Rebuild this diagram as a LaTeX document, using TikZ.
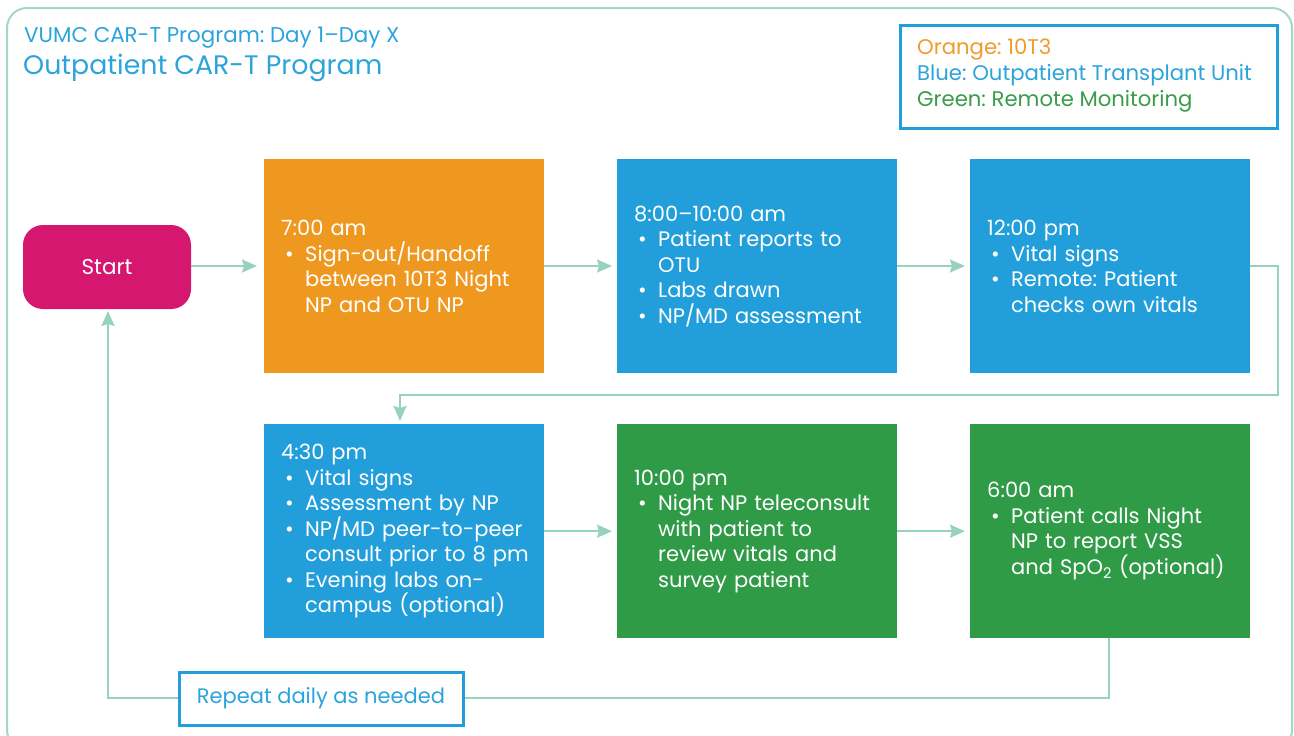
\documentclass[tikz,border=0pt]{standalone}
\usepackage{fontspec}
\setmainfont{Poppins}
\usetikzlibrary{arrows.meta,calc}
\frenchspacing

\definecolor{frameteal}{HTML}{A3D8C7}
\definecolor{linkteal}{HTML}{97D2BF}
\definecolor{otuBlue}{HTML}{229FDA}
\definecolor{tenOrange}{HTML}{EF9820}
\definecolor{remoteGreen}{HTML}{2F9B47}
\definecolor{startPink}{HTML}{D6176F}
\definecolor{titleBlue}{HTML}{2BA4DC}
\definecolor{legOrange}{HTML}{F09C2C}
\definecolor{legGreen}{HTML}{3A9C4B}

% bullet marker and continuation indent for the step boxes
\newcommand{\bl}{\makebox[24pt][l]{\hspace{4pt}\textbullet}}
\newcommand{\ind}{\hspace*{24pt}}

\tikzset{
  stepbox/.style={rectangle, inner xsep=17pt, inner ysep=0pt,
    minimum width=280pt, minimum height=214pt, text width=246pt,
    align=left, text=white, anchor=north west,
    font=\fontsize{21}{25.5}\selectfont},
  link/.style={draw=linkteal, line width=2pt,
    -{Stealth[length=15pt,width=13pt,inset=2pt]}, shorten >=5pt},
  legendbox/.style={draw=otuBlue, line width=3pt, fill=white}
}

\begin{document}
\begin{tikzpicture}[x=1pt,y=-1pt]
\useasboundingbox (0,0) rectangle (1294,736);
\begin{scope}
  \clip (0,0) rectangle (1294,736);
  \draw[frameteal, line width=2pt, rounded corners=20pt] (7,8) rectangle (1292,750);
\end{scope}

% titles
\node[anchor=base west, inner sep=0pt, text=titleBlue, font=\fontsize{21.4}{24}\selectfont]
  (title) at (24,42) {VUMC CAR-T Program: Day 1–Day X};
\node[anchor=base west, inner sep=0pt, text=titleBlue, font=\fontsize{26.8}{30}\selectfont]
  (subtitle) at (23,74) {Outpatient CAR-T Program};

% colour legend
\node[legendbox, anchor=north west, minimum width=377pt, minimum height=103pt,
  inner sep=0pt] (legend) at (899,24) {};
\node[anchor=west, align=left, inner sep=0pt, font=\fontsize{21.2}{26}\selectfont]
  (legendtext) at (917,76)
  {\textcolor{legOrange}{Orange: 10T3}\\
   \textcolor{titleBlue}{Blue: Outpatient Transplant Unit}\\
   \textcolor{legGreen}{Green: Remote Monitoring}};

% start
\node[fill=startPink, rounded corners=20pt, minimum width=168pt, minimum height=84pt,
  text=white, font=\fontsize{21.5}{24}\selectfont] (start) at (107,267) {Start};

% first row
\node[stepbox, fill=tenOrange] (s1) at (264,159)
  {7:00 am\\
   \bl Sign-out/Handoff\\
   \ind between 10T3 Night\\
   \ind NP and OTU NP};
\node[stepbox, fill=otuBlue] (s2) at (617,159)
  {8:00–10:00 am\\
   \bl Patient reports to\\
   \ind OTU\\
   \bl Labs drawn\\
   \bl NP/MD assessment};
\node[stepbox, fill=otuBlue] (s3) at (970,159)
  {12:00 pm\\
   \bl Vital signs\\
   \bl Remote: Patient\\
   \ind checks own vitals};

% second row
\node[stepbox, fill=otuBlue] (s4) at (264,424)
  {4:30 pm\\
   \bl Vital signs\\
   \bl Assessment by NP\\
   \bl NP/MD peer-to-peer\\
   \ind\mbox{consult prior to 8 pm}\\
   \bl Evening labs on-\\
   \ind campus (optional)};
\node[stepbox, fill=remoteGreen] (s5) at (617,424)
  {10:00 pm\\
   \bl Night NP teleconsult\\
   \ind with patient to\\
   \ind review vitals and\\
   \ind survey patient};
\node[stepbox, fill=remoteGreen] (s6) at (970,424)
  {6:00 am\\
   \bl Patient calls Night\\
   \ind NP to report VSS\\
   \ind and SpO\textsubscript{2} (optional)};

% connectors
\coordinate (turnA) at (1278,266);
\coordinate (turnB) at (1278,395);
\coordinate (turnC) at (400,395);
\coordinate (s4top) at (400,424);
\coordinate (s6foot) at (1109,638);
\coordinate (loopR) at (1109,698);
\coordinate (loopL) at (108,698);
\coordinate (startfoot) at (108,308);

\draw[link, shorten >=7pt] (start.east |- 0,266) -- (s1.west |- 0,266);
\draw[link] (s1.east |- 0,266) -- (s2.west |- 0,266);
\draw[link] (s2.east |- 0,266) -- (s3.west |- 0,266);
\draw[link, shorten >=3pt] (s3.east |- turnA) -- (turnA) -- (turnB) -- (turnC) -- (s4top);
\draw[link] (s4.east) -- (s5.west);
\draw[link] (s5.east) -- (s6.west);
\draw[link, shorten >=3pt] (s6foot) -- (loopR) -- (loopL) -- (startfoot);

\node[legendbox, minimum width=284pt, minimum height=53pt, inner sep=0pt,
  text=titleBlue, font=\fontsize{21}{24}\selectfont] (repeat) at (321,698.5)
  {Repeat daily as needed};
\end{tikzpicture}
\end{document}
